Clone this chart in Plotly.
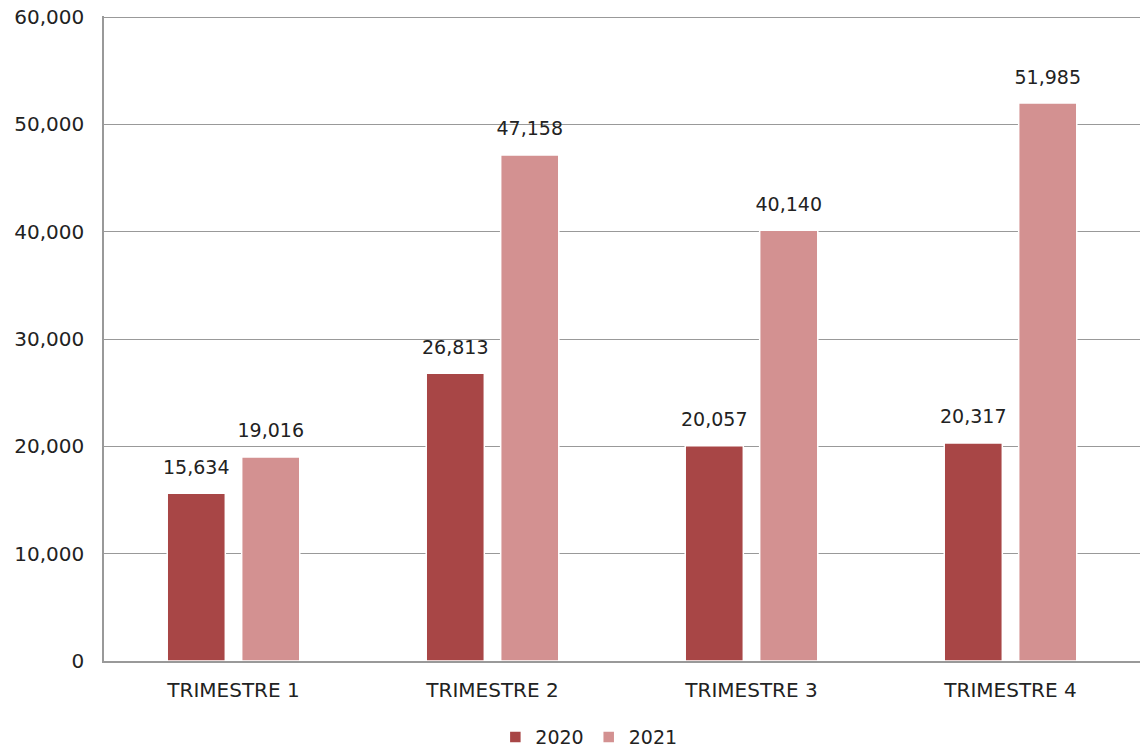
import plotly.graph_objects as go

# data
categories = ["TRIMESTRE 1", "TRIMESTRE 2", "TRIMESTRE 3", "TRIMESTRE 4"]
values_2020 = [15634, 26813, 20057, 20317]
values_2021 = [19016, 47158, 40140, 51985]
y_ticks = [0, 10000, 20000, 30000, 40000, 50000, 60000]

series = [
    ("2020", values_2020, "#A84646"),
    ("2021", values_2021, "#D39191"),
]

FONT = "DejaVu Sans"

fig = go.Figure()
for name, vals, color in series:
    fig.add_trace(go.Bar(
        name=name,
        x=categories,
        y=vals,
        offsetgroup=name,
        marker=dict(color=color, line=dict(color="white", width=1.5)),
    ))
    # value labels: invisible markers push the text a bit above the bar top
    fig.add_trace(go.Scatter(
        x=categories,
        y=vals,
        offsetgroup=name,
        mode="markers+text",
        marker=dict(size=22, opacity=0),
        text=[f"{v:,}" for v in vals],
        textposition="top center",
        textfont=dict(size=19, color="#222222", family=FONT),
        showlegend=False,
        hoverinfo="skip",
        cliponaxis=False,
    ))

fig.update_layout(
    width=1140,
    height=751,
    paper_bgcolor="white",
    plot_bgcolor="white",
    barmode="group",
    scattermode="group",
    bargap=0.425,
    scattergap=0.425,
    bargroupgap=0.22,
    font=dict(family=FONT, size=18, color="#222222"),
    margin=dict(l=104, r=0, t=16, b=90, autoexpand=False),
    legend=dict(
        orientation="h",
        x=0.468, xanchor="center",
        y=-0.118, yanchor="middle",
        font=dict(size=19),
        itemwidth=30,
        traceorder="normal",
    ),
)

fig.update_xaxes(
    showline=True,
    linecolor="#999999",
    linewidth=1.5,
    showgrid=False,
    ticks="",
    automargin=False,
    ticklabelstandoff=10,
    tickfont=dict(size=20),
)

# a little headroom above 60,000 so its gridline is still drawn
fig.update_yaxes(
    range=[0, 60100],
    tickvals=y_ticks,
    tickformat=",",
    showline=True,
    linecolor="#999999",
    linewidth=1.5,
    gridcolor="#999999",
    gridwidth=1.2,
    zeroline=False,
    ticks="",
    automargin=False,
    ticklabelstandoff=14,
    tickfont=dict(size=20),
)

# drop the default page margin so the figure sits at the top-left corner
fig.write_html(
    "out.html",
    config={"displayModeBar": False},
    post_script="document.body.style.margin='0';",
)
